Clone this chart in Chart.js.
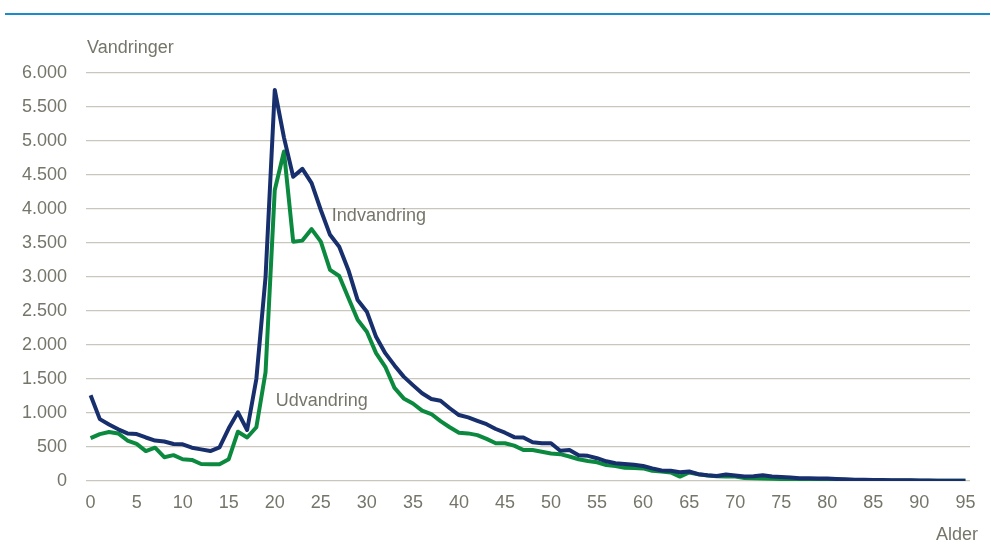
<!DOCTYPE html>
<html>
<head>
<meta charset="utf-8">
<script src="https://cdn.jsdelivr.net/npm/chart.js@4"></script>
<style>
  html, body { margin: 0; padding: 0; background: #fff; }
  #wrap { width: 991px; height: 545px; position: relative; }
</style>
</head>
<body>
<div id="wrap"><canvas id="migChart"></canvas></div>
<script>
// Ages 0..95
const ages = [];
for (let a = 0; a <= 95; a++) ages.push(String(a));

// Indvandring (in-migration) per age
const indvandring = [
  1260, 910, 830, 760, 700, 690, 640, 595, 580, 545,
  540, 490, 465, 440, 495, 775, 1010, 750, 1500, 3000,
  5750, 5050, 4475, 4590, 4380, 3985, 3620, 3445, 3100, 2660,
  2490, 2120, 1880, 1700, 1535, 1410, 1290, 1205, 1180, 1070,
  970, 935, 885, 835, 765, 710, 645, 640, 570, 555,
  555, 445, 455, 380, 370, 335, 290, 260, 250, 240,
  220, 185, 155, 150, 130, 140, 100, 85, 75, 95,
  80, 65, 70, 85, 65, 60, 50, 40, 40, 35,
  35, 30, 25, 20, 20, 15, 15, 12, 10, 10,
  8, 6, 5, 5, 4, 3
];

// Udvandring (out-migration) per age
const udvandring = [
  630, 690, 720, 700, 595, 545, 440, 490, 350, 380,
  320, 310, 250, 245, 245, 320, 725, 640, 790, 1600,
  4280, 4845, 3520, 3535, 3705, 3520, 3105, 3015, 2690, 2370,
  2195, 1880, 1680, 1370, 1215, 1140, 1035, 985, 880, 790,
  710, 700, 675, 620, 555, 555, 520, 455, 455, 430,
  405, 395, 360, 320, 295, 275, 235, 220, 195, 190,
  185, 150, 140, 125, 65, 125, 100, 80, 70, 65,
  65, 45, 40, 35, 32, 30, 28, 25, 22, 20,
  18, 16, 14, 12, 12, 10, 9, 8, 7, 6,
  5, 5, 4, 4, 3, 3
];

const yTicks = [0, 500, 1000, 1500, 2000, 2500, 3000, 3500, 4000, 4500, 5000, 5500, 6000];

const txtColor = '#76756a';
const fontFam = "'Liberation Sans', Arial, sans-serif";

const extras = {
  id: 'extras',
  beforeDraw(chart) {
    const ctx = chart.ctx;
    ctx.save();
    ctx.fillStyle = '#ffffff';
    ctx.fillRect(0, 0, chart.width, chart.height);
    ctx.strokeStyle = '#1a8ccc';
    ctx.lineWidth = 2;
    ctx.beginPath();
    ctx.moveTo(5, 14);
    ctx.lineTo(990, 14);
    ctx.stroke();
    ctx.restore();
  },
  afterDraw(chart) {
    const ctx = chart.ctx;
    const x = chart.scales.x, y = chart.scales.y;
    ctx.save();
    ctx.fillStyle = txtColor;
    ctx.font = '18px ' + fontFam;
    ctx.textBaseline = 'middle';
    ctx.textAlign = 'left';
    ctx.fillText('Vandringer', 87, 48);
    ctx.fillText('Indvandring', x.getPixelForValue(26.2), y.getPixelForValue(3900));
    ctx.fillText('Udvandring', x.getPixelForValue(20.1), y.getPixelForValue(1180));
    ctx.textAlign = 'right';
    ctx.fillText('Alder', 978, 535);
    ctx.restore();
  }
};

new Chart(document.getElementById('migChart'), {
  type: 'line',
  data: {
    labels: ages,
    datasets: [
      { label: 'Indvandring', data: indvandring, borderColor: '#172f6c', borderWidth: 4, borderJoinStyle: 'round', pointRadius: 0, tension: 0, fill: false },
      { label: 'Udvandring', data: udvandring, borderColor: '#0b8a3f', borderWidth: 4, borderJoinStyle: 'round', pointRadius: 0, tension: 0, fill: false }
    ]
  },
  options: {
    responsive: true,
    maintainAspectRatio: false,
    animation: false,
    layout: { padding: { top: 73, right: 21, bottom: 0, left: 0 } },
    plugins: { legend: { display: false }, tooltip: { enabled: false } },
    scales: {
      x: {
        type: 'category',
        offset: true,
        grid: { display: false, drawTicks: false },
        border: { display: false },
        afterFit(scale) { scale.height = 64; },
        ticks: {
          autoSkip: false,
          maxRotation: 0,
          padding: 11,
          color: txtColor,
          font: { size: 18, family: fontFam },
          callback(val, i) { return i % 5 === 0 ? ages[i] : ''; }
        }
      },
      y: {
        min: 0,
        max: 6000,
        afterFit(scale) { scale.width = 86; },
        afterBuildTicks(scale) { scale.ticks = yTicks.map(v => ({ value: v })); },
        grid: { color: '#c9c7bd', lineWidth: 1.2, drawTicks: false },
        border: { display: false },
        ticks: {
          padding: 19,
          color: txtColor,
          font: { size: 18, family: fontFam },
          callback(v) { return v.toLocaleString('da-DK'); }
        }
      }
    }
  },
  plugins: [extras]
});
</script>
</body>
</html>
